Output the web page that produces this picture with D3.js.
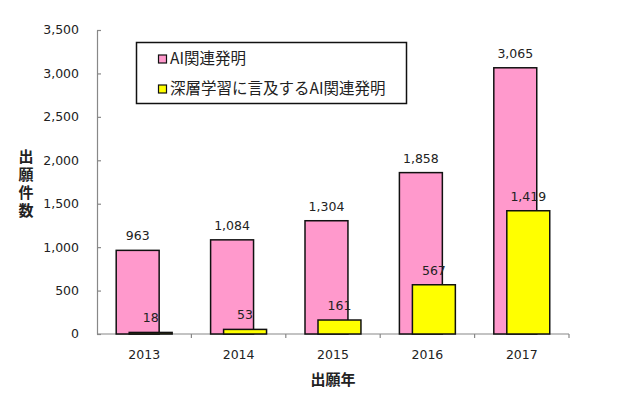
<!DOCTYPE html>
<html>
<head>
<meta charset="utf-8">
<script src="https://cdn.jsdelivr.net/npm/d3@7"></script>
<style>
  body { margin: 0; background: #fff; }
  svg text { fill: #222; }
  .num { font-family: "DejaVu Sans", sans-serif; font-size: 12.5px; }
  .jp { font-family: "Noto Sans CJK JP", sans-serif; }
</style>
</head>
<body>
<div id="chart"></div>
<script>
// 出願年ごとの件数
const years = ["2013", "2014", "2015", "2016", "2017"];
const aiCounts = [963, 1084, 1304, 1858, 3065];
const dlCounts = [18, 53, 161, 567, 1419];
const yTicks = [0, 500, 1000, 1500, 2000, 2500, 3000, 3500];
const seriesNames = ["AI関連発明", "深層学習に言及するAI関連発明"];
const seriesColors = ["#ff99cc", "#ffff00"];

const width = 640, height = 393;
const margin = { top: 30, right: 71, bottom: 59, left: 97 };

const svg = d3.select("#chart").append("svg")
  .attr("width", width)
  .attr("height", height);

const x = d3.scaleBand()
  .domain(years)
  .range([margin.left, width - margin.right])
  .padding(0);

const y = d3.scaleLinear()
  .domain([0, 3500])
  .range([height - margin.bottom, margin.top]);

const barW = x.bandwidth() * 0.455;
const offsets = [-28, -15]; // ずらして重ねる

// --- Y軸 ---
const yAxis = svg.append("g")
  .attr("transform", `translate(${margin.left},0)`)
  .call(d3.axisRight(y).tickValues(yTicks).tickSize(4).tickSizeOuter(0).tickFormat(""));
yAxis.selectAll("line, path").attr("stroke", "#888").attr("stroke-width", 1.2);

svg.append("g").selectAll("text")
  .data(yTicks)
  .join("text")
  .attr("class", "num")
  .attr("x", margin.left - 18)
  .attr("y", d => y(d))
  .attr("dy", "0.35em")
  .attr("text-anchor", "end")
  .text(d3.format(","));

// --- X軸 ---
const y0 = y(0);
svg.append("line")
  .attr("x1", margin.left).attr("x2", width - margin.right)
  .attr("y1", y0).attr("y2", y0)
  .attr("stroke", "#888").attr("stroke-width", 1.2);

const boundaries = years.map(d => x(d)).concat([x(years[years.length - 1]) + x.bandwidth()]);
svg.append("g").selectAll("line")
  .data(boundaries.slice(1))
  .join("line")
  .attr("x1", d => d).attr("x2", d => d)
  .attr("y1", y0).attr("y2", y0 + 4)
  .attr("stroke", "#888").attr("stroke-width", 1.2);

svg.append("g").selectAll("text")
  .data(years)
  .join("text")
  .attr("class", "num")
  .attr("x", d => x(d) + x.bandwidth() / 2)
  .attr("y", y0 + 21)
  .attr("dy", "0.35em")
  .attr("text-anchor", "middle")
  .text(d => d);

// --- 棒 ---
[aiCounts, dlCounts].forEach((vals, i) => {
  const g = svg.append("g");
  g.selectAll("rect")
    .data(vals)
    .join("rect")
    .attr("x", (d, j) => x(years[j]) + x.bandwidth() / 2 + offsets[i])
    .attr("y", d => y(d))
    .attr("width", barW)
    .attr("height", d => y0 - y(d))
    .attr("fill", seriesColors[i])
    .attr("stroke", "#111")
    .attr("stroke-width", 1.5);
  g.selectAll("text")
    .data(vals)
    .join("text")
    .attr("class", "num")
    .attr("x", (d, j) => x(years[j]) + x.bandwidth() / 2 + offsets[i] + barW / 2)
    .attr("y", d => y(d) - 10)
    .attr("text-anchor", "middle")
    .text(d3.format(","));
});

// --- 凡例 ---
const legend = svg.append("g");
legend.append("rect")
  .attr("x", 136.5).attr("y", 42.5)
  .attr("width", 270).attr("height", 61)
  .attr("fill", "#fff")
  .attr("stroke", "#111")
  .attr("stroke-width", 1.5);
seriesNames.forEach((name, i) => {
  const cy = 59 + i * 30;
  legend.append("rect")
    .attr("x", 158.5).attr("y", cy - 4)
    .attr("width", 8).attr("height", 8)
    .attr("fill", seriesColors[i])
    .attr("stroke", "#111")
    .attr("stroke-width", 1.2);
  legend.append("text")
    .attr("class", "jp")
    .attr("x", 170)
    .attr("y", cy)
    .attr("dy", "0.35em")
    .style("font-size", "15.5px")
    .text(name);
});

// --- 軸タイトル（縦書き） ---
svg.append("text")
  .attr("class", "jp")
  .attr("x", 26)
  .attr("y", 149)
  .style("writing-mode", "vertical-rl")
  .style("font-size", "15px")
  .style("font-weight", "bold")
  .style("letter-spacing", "3px")
  .text("出願件数");

svg.append("text")
  .attr("class", "jp")
  .attr("x", (margin.left + width - margin.right) / 2)
  .attr("y", 380)
  .attr("dy", "0.35em")
  .attr("text-anchor", "middle")
  .style("font-size", "15px")
  .style("font-weight", "bold")
  .text("出願年");
</script>
</body>
</html>
